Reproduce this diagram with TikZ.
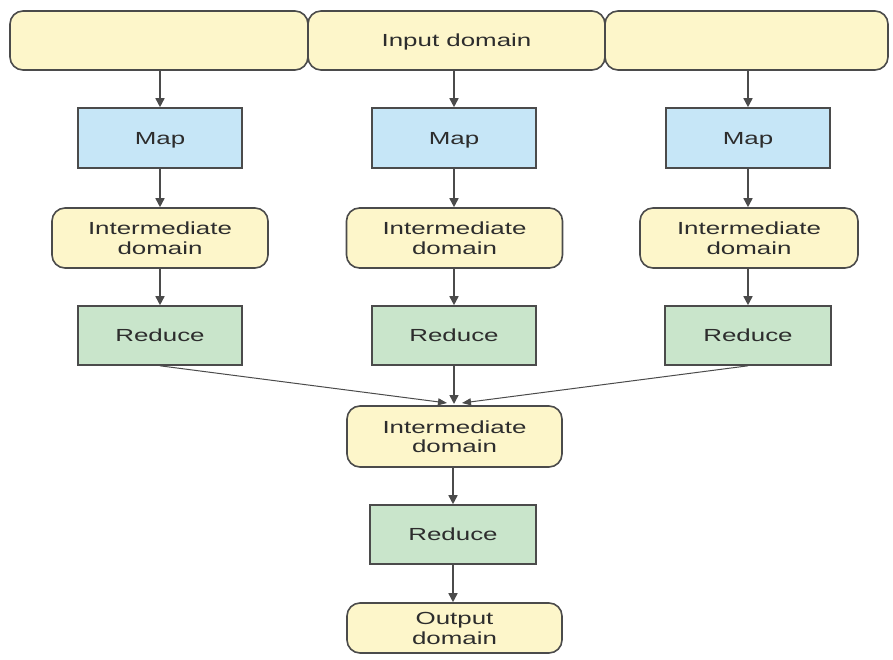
\documentclass[tikz,border=0pt]{standalone}
\usepackage{fontspec}
\setmainfont{Liberation Sans}
\usetikzlibrary{arrows.meta}
\definecolor{yel}{RGB}{253,246,202}
\definecolor{blu}{RGB}{198,230,247}
\definecolor{grn}{RGB}{201,229,203}
\definecolor{edge}{RGB}{75,75,75}
\definecolor{txt}{RGB}{45,45,45}
\newcommand{\lbl}[1]{\raisebox{-2.5pt}[\height][\depth]{\scalebox{1.48}[1]{\begin{tabular}{@{}c@{}}#1\end{tabular}}}}
\tikzset{
  base/.style={draw=edge, line width=1.6pt, text=txt, inner sep=0pt,
    font=\fontsize{17.5}{19.5}\selectfont, align=center},
  dom/.style={base, fill=yel, rounded corners=13pt},
  mapbox/.style={base, fill=blu, minimum width=164pt, minimum height=60pt},
  redbox/.style={base, fill=grn, minimum width=164pt, minimum height=59pt},
  arr/.style={draw=edge, line width=1.6pt, -{Triangle[width=9pt,length=9pt]}},
  thinarr/.style={draw=edge, line width=1pt, -{Triangle[width=7pt,length=9pt]}},
}
\begin{document}
\begin{tikzpicture}[x=1pt,y=-1pt]
\useasboundingbox (0,0) rectangle (893,660);
% top input domain
\node[dom, minimum width=298pt, minimum height=59pt] (inL) at (159,40.5) {};
\node[dom, minimum width=297pt, minimum height=59pt] (inM) at (456.5,40.5) {\lbl{Input domain}};
\node[dom, minimum width=283pt, minimum height=59pt] (inR) at (746.5,40.5) {};
% maps
\node[mapbox] (m1) at (160,138) {\lbl{Map}};
\node[mapbox] (m2) at (454,138) {\lbl{Map}};
\node[mapbox] (m3) at (748,138) {\lbl{Map}};
% intermediate
\node[dom, minimum width=216pt, minimum height=60pt] (i1) at (160,238) {\lbl{Intermediate\\domain}};
\node[dom, minimum width=216pt, minimum height=60pt] (i2) at (454.5,238) {\lbl{Intermediate\\domain}};
\node[dom, minimum width=218pt, minimum height=60pt] (i3) at (749,238) {\lbl{Intermediate\\domain}};
% reduce
\node[redbox] (r1) at (160,335.5) {\lbl{Reduce}};
\node[redbox] (r2) at (454,335.5) {\lbl{Reduce}};
\node[redbox, minimum width=166pt] (r3) at (748,335.5) {\lbl{Reduce}};
% bottom
\node[dom, minimum width=215pt, minimum height=61pt] (bi) at (454.5,436.5) {\lbl{Intermediate\\domain}};
\node[redbox, minimum width=166pt] (br) at (453,534.5) {\lbl{Reduce}};
\node[dom, minimum width=215pt, minimum height=50pt] (out) at (454.5,628) {\lbl{Output\\domain}};
% arrows
\draw[arr] (inL.south -| m1.north) -- (m1.north);
\draw[arr] (inM.south -| m2.north) -- (m2.north);
\draw[arr] (inR.south -| m3.north) -- (m3.north);
\draw[arr] (m1) -- (i1.north -| m1.south);
\draw[arr] (m2) -- (i2.north -| m2.south);
\draw[arr] (m3) -- (i3.north -| m3.south);
\draw[arr] (i1.south -| r1.north) -- (r1.north);
\draw[arr] (i2.south -| r2.north) -- (r2.north);
\draw[arr] (i3.south -| r3.north) -- (r3.north);
\coordinate (jl) at (447,403);
\coordinate (jm) at (454,404);
\coordinate (jr) at (462,403);
\draw[thinarr] (r1.south) -- (jl);
\draw[arr] (r2.south) -- (jm);
\draw[thinarr] (r3.south) -- (jr);
\draw[arr] (bi.south -| br.north) -- (br.north);
\draw[arr] (br.south) -- (out.north -| br.south);
\end{tikzpicture}
\end{document}
